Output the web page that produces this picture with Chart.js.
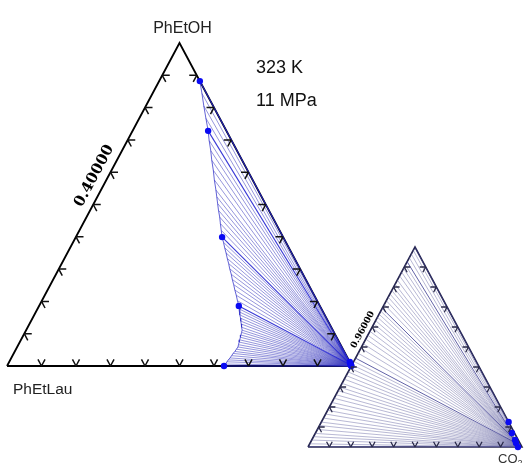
<!DOCTYPE html>
<html>
<head>
<meta charset="utf-8">
<script src="https://cdn.jsdelivr.net/npm/chart.js@4.4.1/dist/chart.umd.min.js"></script>
<style>
  html, body { margin: 0; padding: 0; background: #ffffff; }
  canvas { display: block; }
</style>
</head>
<body>
<canvas id="chart" width="528" height="463"></canvas>
<script>
// Liquid-phase ends of the tie lines (mole fractions), from the PhEtOH-rich end down to the PhEtLau-CO2 side
const liquidPhEtOH = [
  0.882, 0.844, 0.805, 0.767, 0.728,
  0.698, 0.667, 0.637, 0.606, 0.576, 0.545,
  0.524, 0.503, 0.482, 0.461, 0.441, 0.420, 0.399,
  0.383, 0.366, 0.350, 0.333, 0.317, 0.301, 0.284, 0.268, 0.252, 0.235, 0.219, 0.202, 0.186,
  0.177, 0.167, 0.158, 0.148, 0.139, 0.130, 0.120, 0.111,
  0.104, 0.096, 0.089, 0.081, 0.074, 0.066, 0.059,
  0.052, 0.045, 0.039, 0.032, 0.025,
  0.019, 0.013, 0.006, 0.000
];
const liquidPhEtLau = [
  0.000, 0.013, 0.027, 0.040, 0.053,
  0.065, 0.076, 0.088, 0.099, 0.111, 0.122,
  0.130, 0.138, 0.146, 0.153, 0.161, 0.169, 0.177,
  0.181, 0.186, 0.190, 0.195, 0.199, 0.204, 0.208, 0.213, 0.217, 0.222, 0.226, 0.231, 0.235,
  0.239, 0.242, 0.246, 0.249, 0.253, 0.256, 0.260, 0.263,
  0.268, 0.274, 0.279, 0.285, 0.290, 0.296, 0.301,
  0.309, 0.317, 0.325, 0.333, 0.341,
  0.349, 0.356, 0.364, 0.371
];
// CO2-rich vapour ends of the same tie lines
const vaporPhEtOH = [
  0.0125, 0.0112, 0.0098, 0.0084, 0.0070,
  0.0065, 0.0060, 0.0055, 0.0051, 0.0047, 0.0044,
  0.0042, 0.0040, 0.0039, 0.0038, 0.0037, 0.0036, 0.0035,
  0.0034, 0.0033, 0.0032, 0.0031, 0.0030, 0.0029, 0.0027, 0.0026, 0.0025, 0.0024, 0.0022, 0.0021, 0.0020,
  0.0019, 0.0018, 0.0017, 0.0016, 0.0015, 0.0014, 0.0013, 0.0012,
  0.0011, 0.0010, 0.0009, 0.0008, 0.0007, 0.0006, 0.0005,
  0.0004, 0.0003, 0.0003, 0.0002, 0.0001,
  0.0001, 0.0000, 0.0000, 0.0000
];
const vaporPhEtLau = [
  0.0000, 0.0003, 0.0006, 0.0009, 0.0012,
  0.0012, 0.0013, 0.0013, 0.0013, 0.0014, 0.0014,
  0.0014, 0.0014, 0.0015, 0.0015, 0.0015, 0.0015, 0.0015,
  0.0015, 0.0015, 0.0016, 0.0016, 0.0016, 0.0016, 0.0017, 0.0017, 0.0017, 0.0017, 0.0018, 0.0018, 0.0018,
  0.0018, 0.0018, 0.0018, 0.0018, 0.0018, 0.0018, 0.0018, 0.0018,
  0.0018, 0.0018, 0.0018, 0.0019, 0.0019, 0.0019, 0.0019,
  0.0019, 0.0019, 0.0019, 0.0019, 0.0019,
  0.0019, 0.0019, 0.0019, 0.0019
];
// Tie lines backed by measured points
const measuredTieLines = [0, 4, 17, 30, 54];

// Grid fractions marked along every side
const tickFractions = [0.1, 0.2, 0.3, 0.4, 0.5, 0.6, 0.7, 0.8, 0.9];
// The inset magnifies the CO2 corner, CO2 from this value up to 1
const insetCO2Min = 0.9;

const topLabel = 'PhEtOH';
const leftLabel = 'PhEtLau';
const rightLabel = ['CO', '2'];
const conditionLabels = ['323 K', '11 MPa'];
const fullEdgeValue = '0.40000';
const insetEdgeValue = '0.96000';

// ---- layout (pixels) ----
const W = 528, H = 463;
const FULL_BOX = { left: 7, right: 352, base: 366, top: 43 };
const INSET_BOX = { left: 308, right: 522, base: 447, top: 247 };

function axisRange(box) {
  const ux = box.right - box.left, uy = box.base - box.top;
  return { xmin: -box.left / ux, xmax: (W - box.left) / ux,
           ymin: (box.base - H) / uy, ymax: box.base / uy };
}

// composition (PhEtOH, PhEtLau) -> triangle plane
function fullXY(e, l) {
  const c = 1 - e - l;
  return { x: c + e / 2, y: e };
}
function insetXY(e, l) {
  const s = 1 - insetCO2Min;
  const c = 1 - e - l;
  return { x: (c - insetCO2Min) / s + e / (2 * s), y: e / s };
}

// corners: PhEtLau, CO2, PhEtOH
const fullCorners = [[0, 1], [0, 0], [1, 0]];
const insetCorners = [[0, 1 - insetCO2Min], [0, 0], [1 - insetCO2Min, 0]];

const datasets = [];
function addLine(data, axes, color, width, order, clip) {
  datasets.push({
    data, xAxisID: axes[0], yAxisID: axes[1],
    showLine: true, borderColor: color, borderWidth: width,
    pointRadius: 0, pointHoverRadius: 0, fill: false, tension: 0,
    borderJoinStyle: 'miter', order, clipToInset: !!clip
  });
}
function addDots(data, axes, order) {
  datasets.push({
    data, xAxisID: axes[0], yAxisID: axes[1],
    showLine: false, pointRadius: 3.2, pointHoverRadius: 3.2,
    pointBackgroundColor: '#0a0af2', pointBorderColor: '#0a0af2', pointBorderWidth: 0,
    order
  });
}

const FULL = ['x', 'y'], INSET = ['x2', 'y2'];

// triangle outlines
addLine([...fullCorners, fullCorners[0]].map(c => fullXY(c[0], c[1])), FULL, '#000000', 1.8, 5);
addLine([...insetCorners, insetCorners[0]].map(c => insetXY(c[0], c[1])), INSET, '#25254f', 1.6, 5);

// tie lines
for (let i = 0; i < liquidPhEtOH.length; i++) {
  if (measuredTieLines.includes(i)) continue;
  addLine([fullXY(vaporPhEtOH[i], vaporPhEtLau[i]), fullXY(liquidPhEtOH[i], liquidPhEtLau[i])],
          FULL, 'rgba(60,60,190,0.6)', 0.9, 3);
  addLine([insetXY(vaporPhEtOH[i], vaporPhEtLau[i]), insetXY(liquidPhEtOH[i], liquidPhEtLau[i])],
          INSET, 'rgba(115,115,170,0.6)', 0.85, 3, true);
}
measuredTieLines.forEach(i => {
  addLine([fullXY(vaporPhEtOH[i], vaporPhEtLau[i]), fullXY(liquidPhEtOH[i], liquidPhEtLau[i])],
          FULL, 'rgba(35,35,210,0.9)', 1.1, 2);
  addLine([insetXY(vaporPhEtOH[i], vaporPhEtLau[i]), insetXY(liquidPhEtOH[i], liquidPhEtLau[i])],
          INSET, 'rgba(70,70,150,0.85)', 1, 2, true);
});

// liquid-side phase boundary
addLine(liquidPhEtOH.map((e, i) => fullXY(e, liquidPhEtLau[i])), FULL, 'rgba(45,45,200,0.75)', 1, 2);

// measured points
addDots(measuredTieLines.map(i => fullXY(liquidPhEtOH[i], liquidPhEtLau[i])), FULL, 0);
addDots(measuredTieLines.map(i => fullXY(vaporPhEtOH[i], vaporPhEtLau[i])), FULL, 0);
addDots(measuredTieLines.map(i => insetXY(vaporPhEtOH[i], vaporPhEtLau[i])), INSET, 0);

function cornerPixels(chart, corners, map, xid, yid) {
  const xs = chart.scales[xid], ys = chart.scales[yid];
  return corners.map(c => {
    const p = map(c[0], c[1]);
    return { x: xs.getPixelForValue(p.x), y: ys.getPixelForValue(p.y) };
  });
}
function unit(a, b) {
  const dx = b.x - a.x, dy = b.y - a.y, n = Math.hypot(dx, dy);
  return { x: dx / n, y: dy / n };
}

function drawTicks(ctx, tri, len, color, width) {
  const [BL, R, T] = tri;
  const uL = unit(BL, T), uR = unit(R, T), uB = unit(BL, R);
  const sides = [
    { a: BL, b: R, arms: [uL, uR] },
    { a: BL, b: T, arms: [uB, { x: -uR.x, y: -uR.y }] },
    { a: R, b: T, arms: [{ x: -uB.x, y: -uB.y }, { x: -uL.x, y: -uL.y }] }
  ];
  ctx.save();
  ctx.strokeStyle = color;
  ctx.lineWidth = width;
  ctx.lineCap = 'butt';
  ctx.beginPath();
  sides.forEach(s => {
    tickFractions.forEach(t => {
      const px = s.a.x + t * (s.b.x - s.a.x), py = s.a.y + t * (s.b.y - s.a.y);
      s.arms.forEach(u => {
        ctx.moveTo(px, py);
        ctx.lineTo(px + u.x * len, py + u.y * len);
      });
    });
  });
  ctx.stroke();
  ctx.restore();
}

function drawEdgeValue(ctx, tri, text, font, t, offset) {
  const [BL, , T] = tri;
  const u = unit(BL, T);
  const n = { x: u.y, y: -u.x }; // outward side of the left edge
  const cx = BL.x + t * (T.x - BL.x) + n.x * offset;
  const cy = BL.y + t * (T.y - BL.y) + n.y * offset;
  ctx.save();
  ctx.translate(cx, cy);
  ctx.rotate(Math.atan2(u.y, u.x));
  ctx.font = font;
  ctx.fillStyle = '#000000';
  ctx.textAlign = 'center';
  ctx.textBaseline = 'middle';
  ctx.fillText(text, 0, 0);
  ctx.restore();
}

const ternaryDecor = {
  id: 'ternaryDecor',
  beforeDatasetDraw(chart, args) {
    const ds = chart.data.datasets[args.index];
    if (!ds.clipToInset) return;
    const tri = cornerPixels(chart, insetCorners, insetXY, 'x2', 'y2');
    const ctx = chart.ctx;
    ctx.save();
    ctx.beginPath();
    ctx.moveTo(tri[0].x, tri[0].y);
    ctx.lineTo(tri[1].x, tri[1].y);
    ctx.lineTo(tri[2].x, tri[2].y);
    ctx.closePath();
    ctx.clip();
  },
  afterDatasetDraw(chart, args) {
    const ds = chart.data.datasets[args.index];
    if (ds.clipToInset) chart.ctx.restore();
  },
  afterDatasetsDraw(chart) {
    const ctx = chart.ctx;
    drawTicks(ctx, cornerPixels(chart, fullCorners, fullXY, 'x', 'y'), 7.5, '#111111', 1.5);
    drawTicks(ctx, cornerPixels(chart, insetCorners, insetXY, 'x2', 'y2'), 6, '#2a2a4a', 1.3);
  },
  afterDraw(chart) {
    const ctx = chart.ctx;
    const full = cornerPixels(chart, fullCorners, fullXY, 'x', 'y');
    const inset = cornerPixels(chart, insetCorners, insetXY, 'x2', 'y2');
    const sans = '"Liberation Sans", Arial, sans-serif';
    ctx.save();
    ctx.fillStyle = '#222222';
    ctx.textBaseline = 'alphabetic';
    ctx.font = '16px ' + sans;
    ctx.textAlign = 'center';
    ctx.fillText(topLabel, full[2].x + 3, full[2].y - 10);
    ctx.textAlign = 'left';
    ctx.font = '15.5px ' + sans;
    ctx.fillText(leftLabel, full[0].x + 6, full[0].y + 28);
    ctx.fillStyle = '#333333';
    ctx.font = '13px ' + sans;
    ctx.fillText(rightLabel[0], inset[1].x - 24, inset[1].y + 16);
    const w = ctx.measureText(rightLabel[0]).width;
    ctx.font = '9px ' + sans;
    ctx.fillText(rightLabel[1], inset[1].x - 24 + w, inset[1].y + 19);
    ctx.fillStyle = '#111111';
    ctx.font = '18px ' + sans;
    ctx.fillText(conditionLabels[0], 256, 73);
    ctx.fillText(conditionLabels[1], 256, 106);
    ctx.restore();
    drawEdgeValue(ctx, full, fullEdgeValue, 'bold 15px "DejaVu Serif", serif', 0.57, 12.5);
    drawEdgeValue(ctx, inset, insetEdgeValue, 'bold 9px "DejaVu Serif", serif', 0.57, 7);
  }
};

const fr = axisRange(FULL_BOX), ir = axisRange(INSET_BOX);
const hidden = { display: false, grid: { display: false }, ticks: { display: false } };

new Chart(document.getElementById('chart'), {
  type: 'scatter',
  data: { datasets },
  options: {
    responsive: false,
    devicePixelRatio: 1,
    animation: false,
    events: [],
    layout: { padding: 0, autoPadding: false },
    plugins: { legend: { display: false }, tooltip: { enabled: false } },
    scales: {
      x: { type: 'linear', position: 'bottom', min: fr.xmin, max: fr.xmax, bounds: 'data', ...hidden },
      y: { type: 'linear', position: 'left', min: fr.ymin, max: fr.ymax, bounds: 'data', ...hidden },
      x2: { type: 'linear', axis: 'x', position: 'top', min: ir.xmin, max: ir.xmax, bounds: 'data', ...hidden },
      y2: { type: 'linear', axis: 'y', position: 'right', min: ir.ymin, max: ir.ymax, bounds: 'data', ...hidden }
    }
  },
  plugins: [ternaryDecor]
});
</script>
</body>
</html>
